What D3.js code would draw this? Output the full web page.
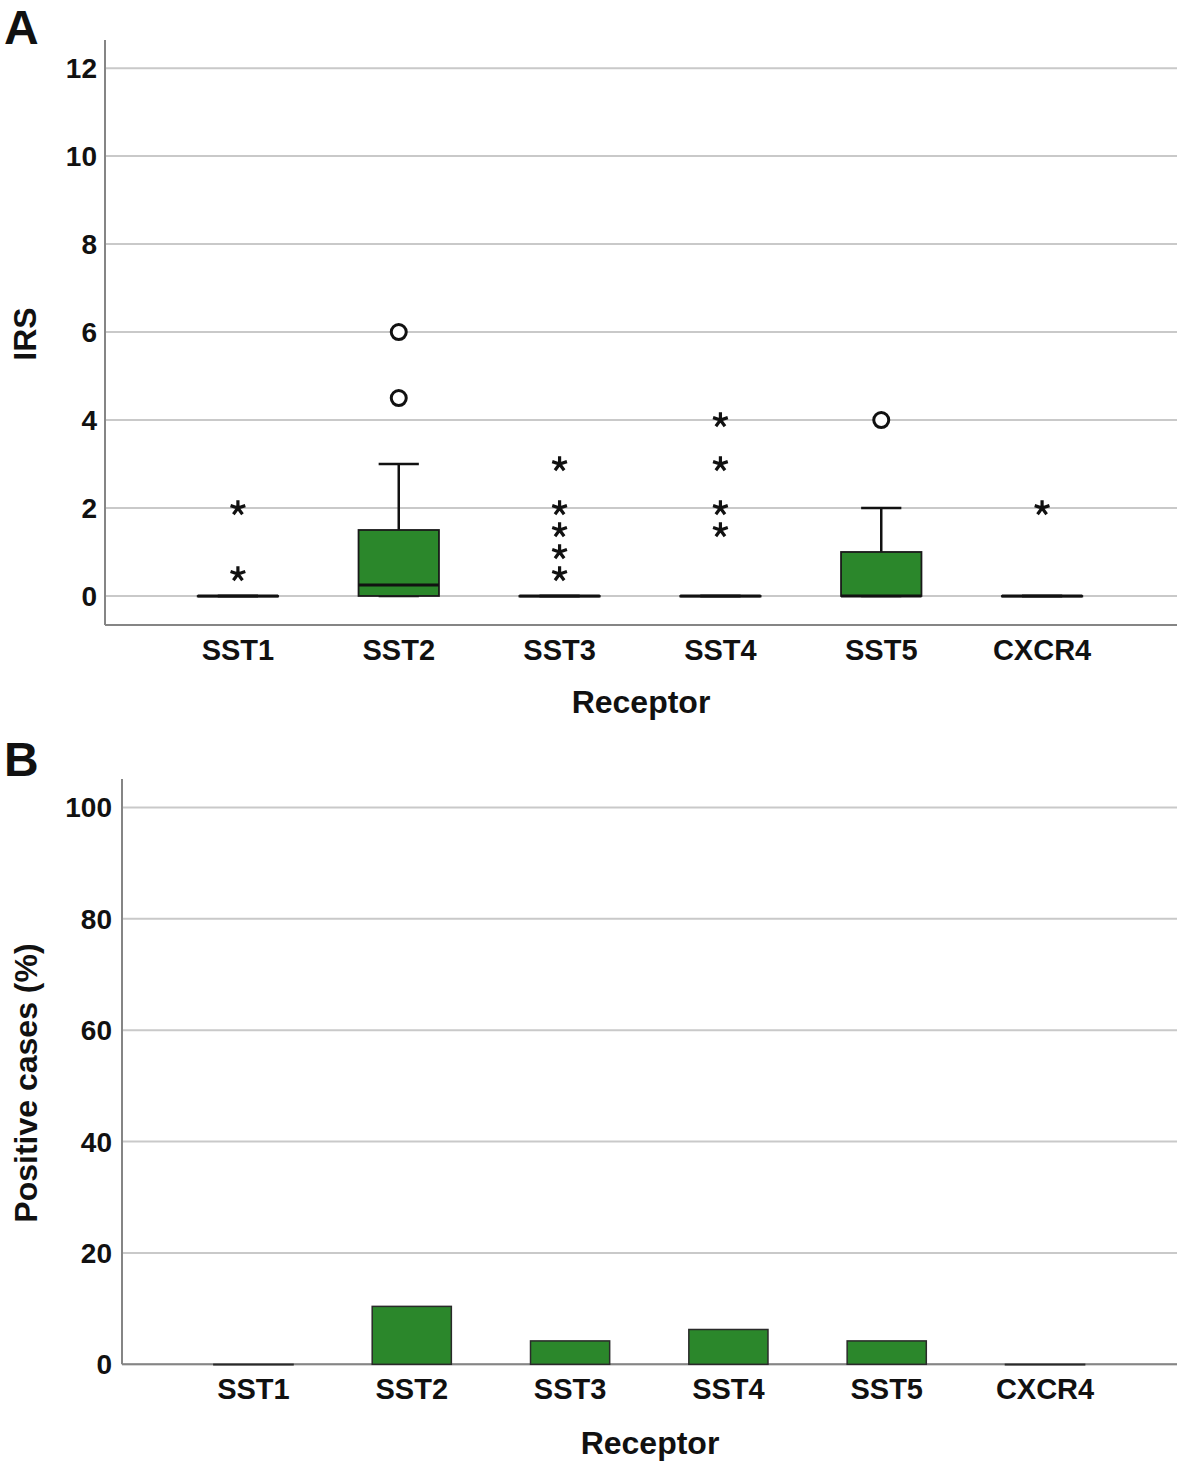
<!DOCTYPE html>
<html>
<head>
<meta charset="utf-8">
<script src="https://cdn.jsdelivr.net/npm/d3@7"></script>
<style>
  body { margin: 0; background: #fff; }
  text { font-family: "Liberation Sans", Arial, sans-serif; font-weight: bold; fill: #111; }
</style>
</head>
<body>
<div id="graf"></div>
<script>
// Datos
const categorias = ["SST1", "SST2", "SST3", "SST4", "SST5", "CXCR4"];
// Panel A: resumen de cajas (IRS)
const q1 = [0, 0, 0, 0, 0, 0];
const mediana = [0, 0.25, 0, 0, 0, 0];
const q3 = [0, 1.5, 0, 0, 1, 0];
const bigoteBajo = [0, 0, 0, 0, 0, 0];
const bigoteAlto = [0, 3, 0, 0, 2, 0];
const atipicos = [[], [4.5, 6], [], [], [4], []];        // circulos
const extremos = [[0.5, 2], [], [0.5, 1, 1.5, 2, 3], [1.5, 2, 3, 4], [], [2]]; // asteriscos
const ticksA = [0, 2, 4, 6, 8, 10, 12];
// Panel B: porcentaje de casos positivos
const positivos = [0, 10.4, 4.2, 6.25, 4.2, 0];
const ticksB = [0, 20, 40, 60, 80, 100];

const verde = "#2b872b";
const gris = "#c9c9c9";
const ejeColor = "#858585";

const svg = d3.select("#graf").append("svg")
  .attr("width", 1180)
  .attr("height", 1464);

// asterisco de 5 brazos como simbolo
const asterisco = {
  draw(context, size) {
    const r = Math.sqrt(size);
    for (let k = 0; k < 5; k++) {
      const a = -Math.PI / 2 + k * 2 * Math.PI / 5;
      context.moveTo(0, 0);
      context.lineTo(r * Math.cos(a), r * Math.sin(a));
    }
  }
};

// ---------------- PANEL A ----------------
const xA = d3.scalePoint().domain(categorias).range([157.5, 1122.5]).padding(0.5);
const yA = d3.scaleLinear().domain([-0.66, 12.64]).range([625, 40]);
const anchoCaja = xA.step() * 0.5;

const gA = svg.append("g");

gA.selectAll(".gridA").data(ticksA).enter().append("line")
  .attr("x1", 105).attr("x2", 1177)
  .attr("y1", d => yA(d)).attr("y2", d => yA(d))
  .attr("stroke", gris).attr("stroke-width", 2);

gA.append("line").attr("x1", 105).attr("x2", 105).attr("y1", yA.range()[1]).attr("y2", yA.range()[0])
  .attr("stroke", ejeColor).attr("stroke-width", 2);
gA.append("line").attr("x1", 105).attr("x2", 1177).attr("y1", yA.range()[0]).attr("y2", yA.range()[0])
  .attr("stroke", ejeColor).attr("stroke-width", 2);

gA.selectAll(".tickA").data(ticksA).enter().append("text")
  .attr("x", 97).attr("y", d => yA(d)).attr("dy", "0.36em")
  .attr("text-anchor", "end").style("font-size", "28px")
  .text(d => d);

gA.selectAll(".catA").data(categorias).enter().append("text")
  .attr("x", d => xA(d)).attr("y", 660)
  .attr("text-anchor", "middle").style("font-size", "29px")
  .text(d => d);

gA.append("text").attr("x", 641).attr("y", 713).attr("text-anchor", "middle")
  .style("font-size", "32px").text("Receptor");
gA.append("text").attr("transform", `translate(36, ${yA(6) + 2}) rotate(-90)`)
  .attr("text-anchor", "middle").style("font-size", "32px").text("IRS");
svg.append("text").attr("x", 4).attr("y", 44).style("font-size", "48px").text("A");

// cajas
const cajas = gA.selectAll(".caja").data(categorias).enter().append("g");

// bigotes
cajas.append("line")
  .attr("x1", d => xA(d)).attr("x2", d => xA(d))
  .attr("y1", (d, i) => yA(q3[i])).attr("y2", (d, i) => yA(bigoteAlto[i]))
  .attr("stroke", "#111").attr("stroke-width", 2.5);
cajas.append("line")
  .attr("x1", d => xA(d)).attr("x2", d => xA(d))
  .attr("y1", (d, i) => yA(q1[i])).attr("y2", (d, i) => yA(bigoteBajo[i]))
  .attr("stroke", "#111").attr("stroke-width", 2.5);
cajas.append("line")
  .attr("x1", d => xA(d) - anchoCaja / 4).attr("x2", d => xA(d) + anchoCaja / 4)
  .attr("y1", (d, i) => yA(bigoteAlto[i])).attr("y2", (d, i) => yA(bigoteAlto[i]))
  .attr("stroke", "#111").attr("stroke-width", 2.5);
cajas.append("line")
  .attr("x1", d => xA(d) - anchoCaja / 4).attr("x2", d => xA(d) + anchoCaja / 4)
  .attr("y1", (d, i) => yA(bigoteBajo[i])).attr("y2", (d, i) => yA(bigoteBajo[i]))
  .attr("stroke", "#111").attr("stroke-width", 2.5);

cajas.append("rect")
  .attr("x", d => xA(d) - anchoCaja / 2)
  .attr("width", anchoCaja)
  .attr("y", (d, i) => yA(q3[i]))
  .attr("height", (d, i) => Math.max(yA(q1[i]) - yA(q3[i]), 0.5))
  .attr("fill", verde).attr("stroke", "#1a1a1a").attr("stroke-width", 1.8);

cajas.append("line")
  .attr("x1", d => xA(d) - anchoCaja / 2).attr("x2", d => xA(d) + anchoCaja / 2)
  .attr("y1", (d, i) => yA(mediana[i])).attr("y2", (d, i) => yA(mediana[i]))
  .attr("stroke", "#111").attr("stroke-width", 3);

// atipicos (circulos)
const puntosAtipicos = categorias.flatMap((c, i) => atipicos[i].map(v => ({ c, v })));
gA.selectAll(".atip").data(puntosAtipicos).enter().append("circle")
  .attr("cx", d => xA(d.c)).attr("cy", d => yA(d.v))
  .attr("r", 7.5)
  .attr("fill", "#fff").attr("stroke", "#111").attr("stroke-width", 3);

// extremos (asteriscos)
const puntosExtremos = categorias.flatMap((c, i) => extremos[i].map(v => ({ c, v })));
gA.selectAll(".extr").data(puntosExtremos).enter().append("path")
  .attr("transform", d => `translate(${xA(d.c)}, ${yA(d.v)})`)
  .attr("d", d3.symbol().type(asterisco).size(60))
  .attr("fill", "none").attr("stroke", "#111").attr("stroke-width", 3.2)
  .attr("stroke-linecap", "butt");

// ---------------- PANEL B ----------------
const xB = d3.scalePoint().domain(categorias).range([174.3, 1124.2]).padding(0.5);
const yB = d3.scaleLinear().domain([0, 105.1]).range([1364.3, 779]);
const anchoBarra = xB.step() * 0.5;

const gB = svg.append("g");

gB.selectAll(".gridB").data(ticksB).enter().append("line")
  .attr("x1", 122).attr("x2", 1177)
  .attr("y1", d => yB(d)).attr("y2", d => yB(d))
  .attr("stroke", gris).attr("stroke-width", 2);

gB.append("line").attr("x1", 122).attr("x2", 122).attr("y1", yB.range()[1]).attr("y2", yB.range()[0])
  .attr("stroke", ejeColor).attr("stroke-width", 2);
gB.append("line").attr("x1", 122).attr("x2", 1177).attr("y1", yB.range()[0]).attr("y2", yB.range()[0])
  .attr("stroke", ejeColor).attr("stroke-width", 2);

gB.selectAll(".barra").data(categorias).enter().append("rect")
  .attr("x", d => xB(d) - anchoBarra / 2)
  .attr("width", anchoBarra)
  .attr("y", (d, i) => yB(positivos[i]))
  .attr("height", (d, i) => Math.max(yB(0) - yB(positivos[i]), 0.5))
  .attr("fill", verde).attr("stroke", "#2a2a2a").attr("stroke-width", 1.5);

gB.selectAll(".tickB").data(ticksB).enter().append("text")
  .attr("x", 112).attr("y", d => yB(d)).attr("dy", "0.36em")
  .attr("text-anchor", "end").style("font-size", "28px")
  .text(d => d);

gB.selectAll(".catB").data(categorias).enter().append("text")
  .attr("x", d => xB(d)).attr("y", 1399)
  .attr("text-anchor", "middle").style("font-size", "29px")
  .text(d => d);

gB.append("text").attr("x", 650).attr("y", 1454).attr("text-anchor", "middle")
  .style("font-size", "32px").text("Receptor");
gB.append("text").attr("transform", `translate(37, 1083) rotate(-90)`)
  .attr("text-anchor", "middle").style("font-size", "32px").text("Positive cases (%)");
svg.append("text").attr("x", 4).attr("y", 776).style("font-size", "48px").text("B");
</script>
</body>
</html>
